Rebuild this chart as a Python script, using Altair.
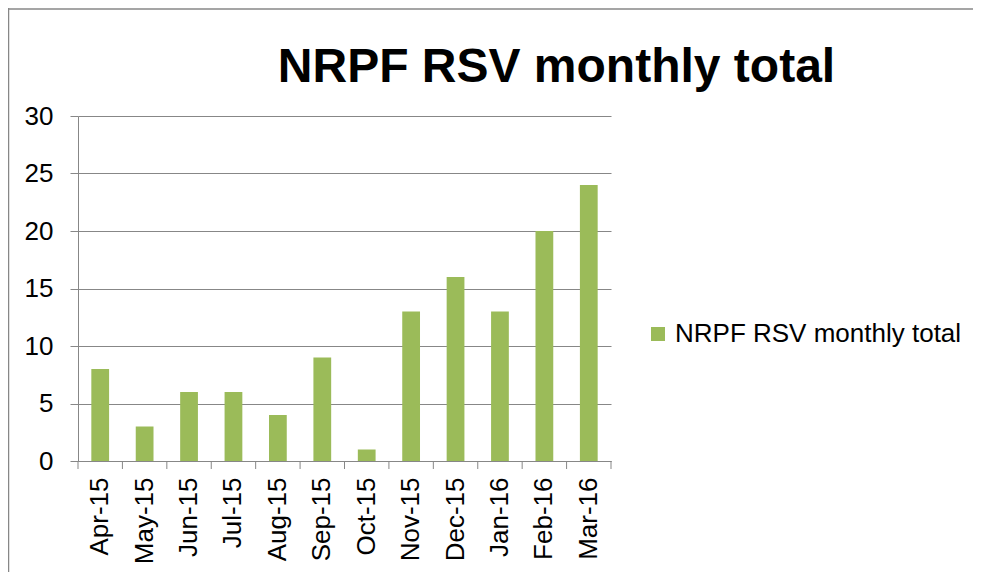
import altair as alt
import pandas as pd

months = ["Apr-15", "May-15", "Jun-15", "Jul-15", "Aug-15", "Sep-15",
          "Oct-15", "Nov-15", "Dec-15", "Jan-16", "Feb-16", "Mar-16"]
values = [8, 3, 6, 6, 4, 9, 1, 13, 16, 13, 20, 24]
series_name = "NRPF RSV monthly total"
title_text = "NRPF RSV monthly total"
y_ticks = [0, 5, 10, 15, 20, 25, 30]

df = pd.DataFrame({"month": months, "value": values, "series": [series_name] * len(months)})

GRAY = "#878787"
FONT = "Liberation Sans"
W, H = 533, 345

xscale = alt.Scale(domain=months, paddingInner=0, paddingOuter=0)

bars = alt.Chart(df).mark_bar(width={"band": 0.4}).encode(
    x=alt.X("month:N", sort=months, scale=xscale,
            axis=alt.Axis(labelAngle=-90, labelFontSize=26, labelFont=FONT,
                          labelColor="black", ticks=False, domainColor=GRAY,
                          labelPadding=16, title=None, grid=False)),
    y=alt.Y("value:Q", scale=alt.Scale(domain=[0, 30], nice=False),
            axis=alt.Axis(values=y_ticks, grid=True, gridColor=GRAY, tickSize=8,
                          tickColor=GRAY, domainColor=GRAY, labelFontSize=26,
                          labelFont=FONT, labelColor="black", labelPadding=17,
                          title=None)),
    color=alt.Color("series:N", scale=alt.Scale(range=["#9BBB59"]),
                    legend=alt.Legend(title=None, orient="none", legendX=567, legendY=205,
                                      symbolType="square", symbolSize=196,
                                      symbolStrokeWidth=0, labelFontSize=26,
                                      labelFont=FONT, labelColor="black",
                                      labelOffset=4, labelLimit=400)),
)

ticks = alt.Chart(df).mark_rule(color=GRAY, strokeWidth=1).encode(
    x=alt.X("month:N", sort=months, scale=xscale, bandPosition=0),
    y=alt.value(H), y2=alt.value(H + 8),
)
end_tick = alt.Chart(df).transform_filter(
    alt.datum.month == months[-1]
).mark_rule(color=GRAY, strokeWidth=1).encode(
    x=alt.X("month:N", sort=months, scale=xscale, bandPosition=1),
    y=alt.value(H), y2=alt.value(H + 8),
)

title = alt.Chart(pd.DataFrame({"t": [title_text]})).mark_text(
    font=FONT, fontSize=48, fontWeight="bold", color="black",
    align="center", baseline="alphabetic",
).encode(text="t:N", x=alt.value(478.5), y=alt.value(-34))

frame_top = alt.Chart(df.head(1)).mark_rule(color=GRAY, strokeWidth=1.5).encode(
    x=alt.value(-70), x2=alt.value(900), y=alt.value(-107),
)
frame_left = alt.Chart(df.head(1)).mark_rule(color=GRAY, strokeWidth=1.5).encode(
    x=alt.value(-69.5), y=alt.value(-108), y2=alt.value(600),
)

chart = alt.layer(bars, ticks, end_tick, title, frame_top, frame_left).properties(
    width=W, height=H,
    autosize=alt.AutoSizeParams(type="none"),
    padding={"left": 70, "top": 108, "right": 362, "bottom": 111},
).configure_view(stroke=None)

chart.save("out.html", embed_options={"renderer": "svg", "actions": False})
